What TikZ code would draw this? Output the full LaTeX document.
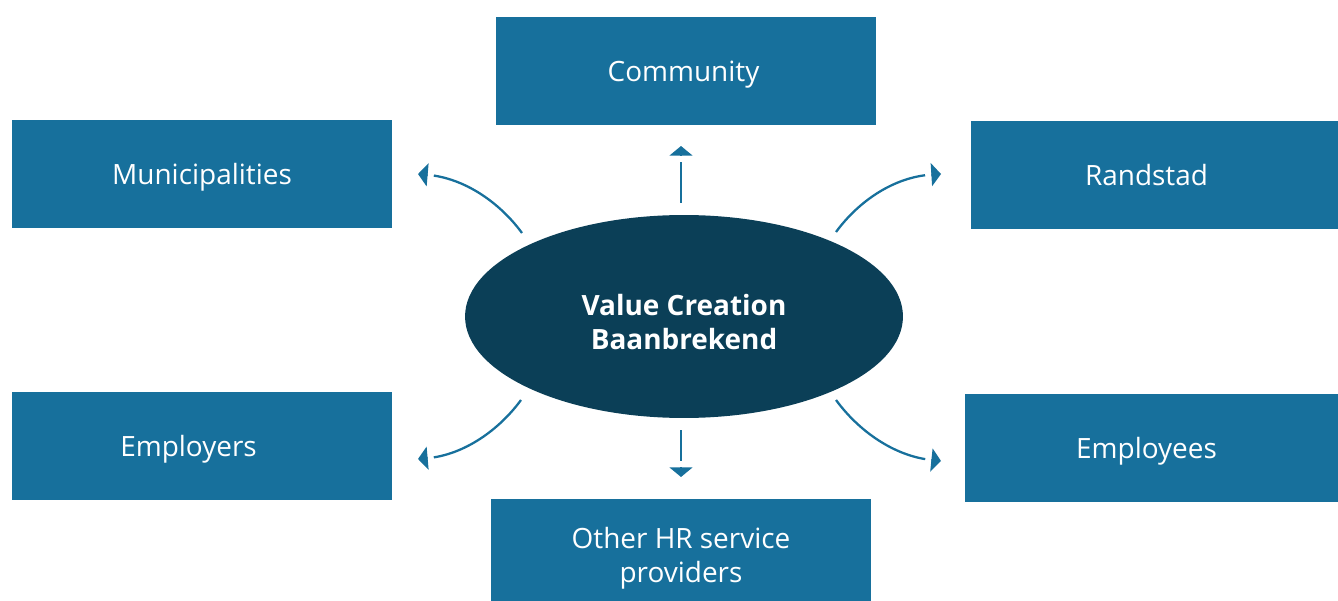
\documentclass[tikz,border=0pt]{standalone}
\usepackage{fontspec}
\setmainfont{Open Sans}
\usetikzlibrary{arrows.meta,shapes.geometric}
\definecolor{boxblue}{HTML}{17709C}
\definecolor{coreblue}{HTML}{0B3F57}
\begin{document}
\begin{tikzpicture}[
		x=0.02cm, y=-0.02cm,
		party/.style={rectangle, fill=boxblue, text=white, inner sep=0pt,
			minimum width=7.6cm, minimum height=2.16cm, text depth=0pt,
			font=\fontsize{15.9}{19.4}\selectfont},
		core/.style={ellipse, fill=coreblue, text=white, inner sep=0pt,
			minimum width=8.76cm, minimum height=4.06cm, align=center,
			font=\fontsize{15.9}{19.4}\selectfont\bfseries},
		flow/.style={draw=boxblue, line width=1.3pt,
			-{Rectangle[white,length=3.5pt,width=.1pt,sep=0pt]
			  Triangle[length=5.5pt,width=13pt,sep=0pt]}}
	]
	\useasboundingbox (0,0) rectangle (1338,601);
	% centre
	\node[core] (vc) at (684,316.5) {\rule{0pt}{18pt}Value Creation\\Baanbrekend};
	% stakeholders
	\node[party] (comm) at (686,71) {Community\kern.1cm};
	\node[party] (muni) at (202,174) {Municipalities};
	\node[party, minimum width=7.34cm] (rand) at (1154.5,175) {Randstad\kern.32cm};
	\node[party] (empr) at (202,446) {Employers\kern.54cm};
	\node[party, minimum width=7.46cm] (empe) at (1151.5,448) {Employees\kern.2cm};
	\node[party, align=center] (ohr) at (681,553) {\rule{0pt}{14.5pt}Other HR service\\providers};
	% arrow ends
	\coordinate (up0) at (681,203);
	\coordinate (up1) at (681,146);
	\coordinate (dn0) at (681,430);
	\coordinate (dn1) at (681,477);
	\coordinate (ul0) at (522,233);
	\coordinate (ul1) at (418,174);
	\coordinate (ur0) at (836,232);
	\coordinate (ur1) at (941,174);
	\coordinate (ll0) at (521,400);
	\coordinate (ll1) at (418,459);
	\coordinate (lr0) at (836,400);
	\coordinate (lr1) at (941,461);
	\draw[flow] (up0) -- (up1);
	\draw[flow] (dn0) -- (dn1);
	\draw[flow] (ul0) .. controls (500,203) and (465,178) .. (ul1);
	\draw[flow] (ur0) .. controls (858,202) and (893,177) .. (ur1);
	\draw[flow] (ll0) .. controls (499,430) and (464,455) .. (ll1);
	\draw[flow] (lr0) .. controls (858,430) and (893,456) .. (lr1);
\end{tikzpicture}
\end{document}
